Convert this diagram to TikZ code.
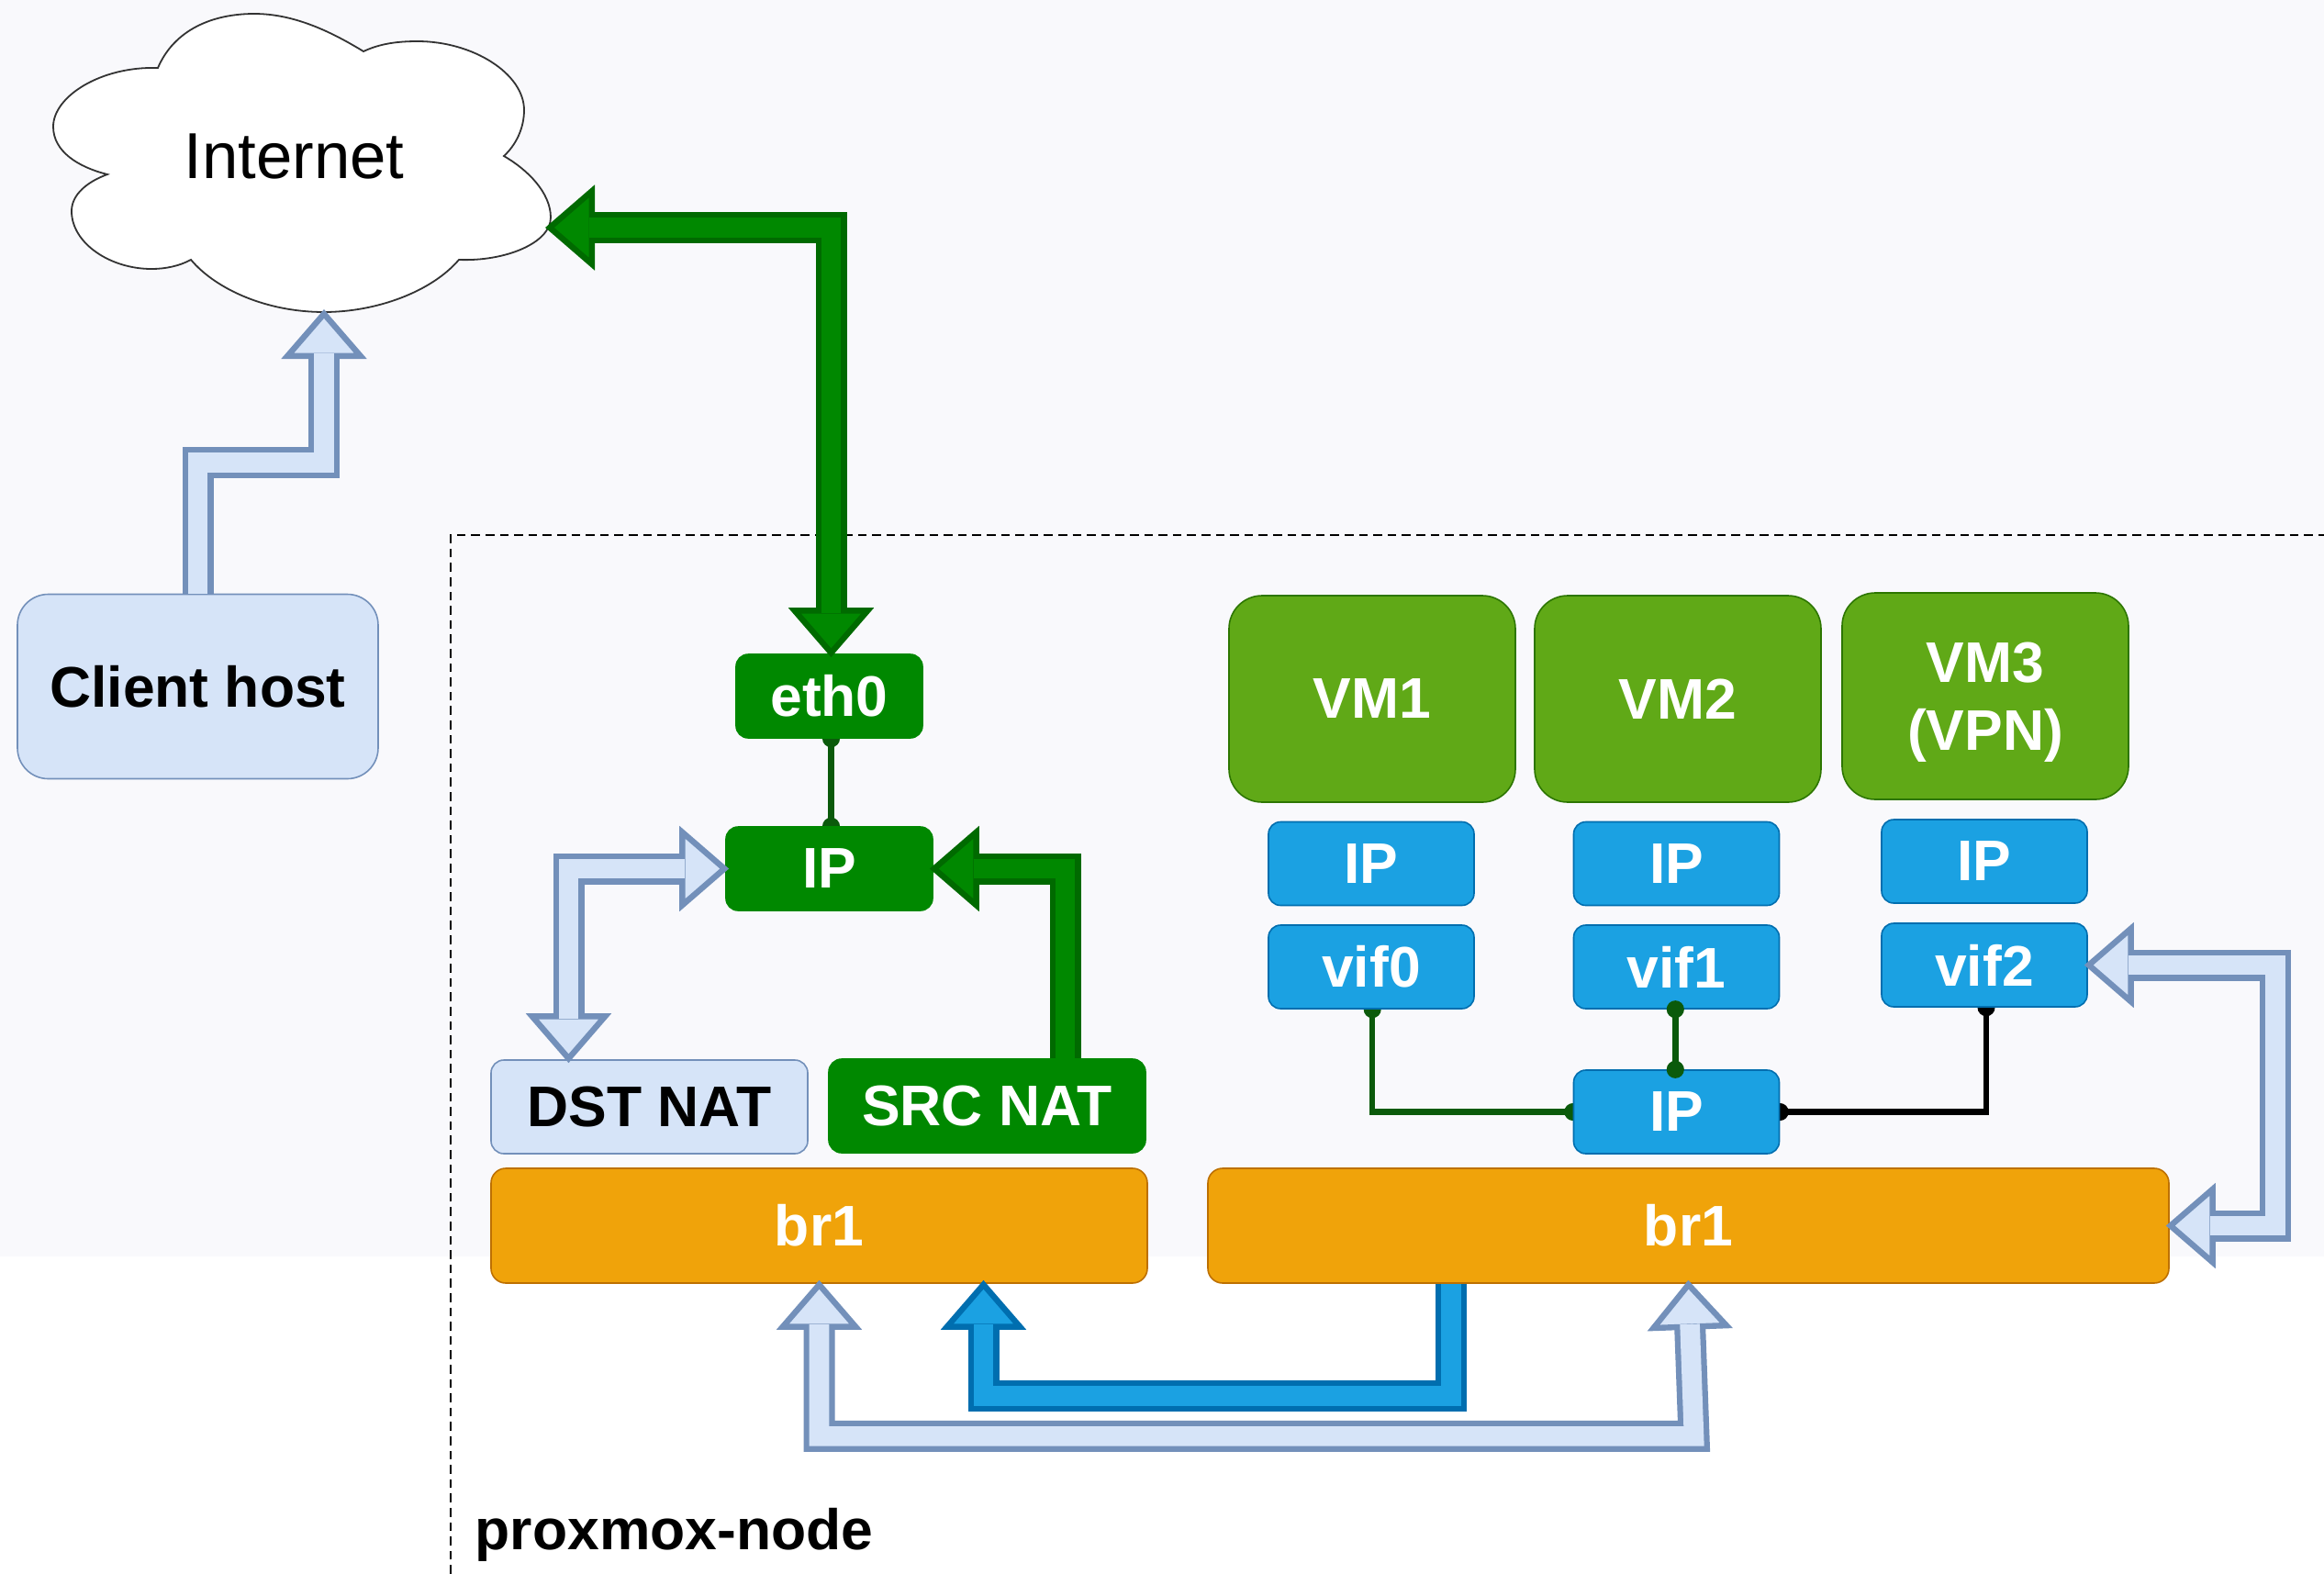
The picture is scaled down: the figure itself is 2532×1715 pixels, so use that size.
\documentclass[tikz,border=0pt]{standalone}
\usepackage{fontspec}
\setmainfont{Liberation Sans}
\usetikzlibrary{arrows.meta,backgrounds,calc,positioning}
\definecolor{paleback}{HTML}{F9F9FC}
\definecolor{lightfill}{HTML}{D6E4F8}
\definecolor{lightedge}{HTML}{7390BA}
\definecolor{greenfill}{HTML}{008800}
\definecolor{greenedge}{HTML}{006A00}
\definecolor{bluefill}{HTML}{1BA1E2}
\definecolor{blueedge}{HTML}{006EAF}
\definecolor{orangefill}{HTML}{F0A30A}
\definecolor{orangeedge}{HTML}{BD7000}
\definecolor{vmfill}{HTML}{60A917}
\definecolor{vmedge}{HTML}{2D7600}
\definecolor{wiregreen}{HTML}{0B5A0B}
\tikzstyle{label}=[font=\fontsize{15.6}{18.5}\selectfont\bfseries, inner sep=0pt, align=center]
\tikzstyle{hostbox}=[label, draw=lightedge, fill=lightfill, rounded corners=0.84em, minimum width=9.825em, minimum height=5.025em]
\tikzstyle{natlight}=[label, draw=lightedge, fill=lightfill, rounded corners=0.35em, minimum width=8.625em, minimum height=2.55em]
\tikzstyle{natgreen}=[natlight, draw=greenfill, fill=greenfill, text=white]
\tikzstyle{ethbox}=[label, draw=greenfill, fill=greenfill, text=white, rounded corners=0.33em, minimum width=5.075em, minimum height=2.275em]
\tikzstyle{ipgreen}=[ethbox, minimum width=5.625em]
\tikzstyle{bridge}=[label, draw=orangeedge, fill=orangefill, text=white, rounded corners=0.4em, minimum height=3.125em]
\tikzstyle{vmbox}=[label, draw=vmedge, fill=vmfill, text=white, rounded corners=0.9em, minimum width=7.8em, minimum height=5.625em]
\tikzstyle{ifbox}=[label, draw=blueedge, fill=bluefill, text=white, rounded corners=0.33em, minimum width=5.6em, minimum height=2.275em]
\tikzset{%
    flowto/.style 2 args={draw=#1, line width=8.5pt, shorten >=-1pt,
      -{Triangle[length=13.5pt, width=23pt, line width=1.6pt, fill=#2]},
      postaction={draw=#2, line width=5.4pt, -, shorten >=11pt}},
    flowboth/.style 2 args={draw=#1, line width=8.5pt, shorten >=-1pt, shorten <=-1pt,
      {Triangle[length=13.5pt, width=23pt, line width=1.6pt, fill=#2]}-{Triangle[length=13.5pt, width=23pt, line width=1.6pt, fill=#2]},
      postaction={draw=#2, line width=5.4pt, -, shorten >=11pt, shorten <=11pt}},
    wire/.style={draw=#1, line width=1.6pt, {Circle[length=4.75pt]}-{Circle[length=4.75pt]}, shorten >=-2.4pt, shorten <=-2.4pt},
  }

\begin{document}
\begin{tikzpicture}[x=0.25pt, y=-0.25pt]
    \useasboundingbox (0,0) rectangle (2532,1715);
    \begin{scope}[on background layer]
      \fill [white] (0,0) rectangle (2532,1715);
      \fill [paleback] (0,0) rectangle (2532,1369);
    \end{scope}
    \draw [black, line width=0.4pt, dash pattern=on 2.4pt off 1.5pt] (491,1715) -- (491,583) -- (2532,583);
    %
    \draw [black!80, line width=0.45pt, fill=white]
      (172,74) .. controls (190,32) and (232,15) .. (277,15) .. controls (320,15) and (360,34) .. (396,56)
      .. controls (415,47) and (435,45) .. (455,45) .. controls (515,45) and (571,80) .. (571,120) .. controls (571,140) and (562,158) .. (549,170)
      .. controls (575,185) and (600,210) .. (600,237) .. controls (600,265) and (550,285) .. (500,283)
      .. controls (470,318) and (410,340) .. (353,340) .. controls (290,340) and (235,315) .. (208,283)
      .. controls (195,290) and (180,293) .. (165,293) .. controls (120,293) and (78,265) .. (78,230) .. controls (78,212) and (95,198) .. (117,190)
      .. controls (85,182) and (58,165) .. (58,138) .. controls (58,105) and (110,72) .. (172,74) -- cycle;
    \node (internet) [font=\fontsize{17.7}{21}\selectfont, inner sep=0pt] at (320.5,170) {Internet};
    \coordinate (cloudeast) at (598,248);
    \coordinate (cloudsouth) at (353,341);
    %
    \node (client) [hostbox] at (215.5,748) {Client host};
    %
    \node (br1a) [bridge, minimum width=17.875em] at (892.5,1335.5) {br1};
    \node (br1b) [bridge, minimum width=26.175em, right of=br1a, node distance=23.675em] {br1};
    \node (dstnat) [natlight, above of=br1a, xshift=-4.625em, node distance=3.2375em] {DST NAT};
    \node (srcnat) [natgreen, right of=dstnat, yshift=0.025em, node distance=9.2em] {SRC NAT};
    \node (ipl) [ipgreen, above of=dstnat, xshift=4.9em, node distance=6.4875em] {IP};
    \node (eth0) [ethbox, above of=ipl, node distance=4.7em] {eth0};
    %
    \node (ip4) [ifbox, above of=br1b, xshift=-0.325em, node distance=3.1em] {IP};
    \node (vif1) [ifbox, above of=ip4, node distance=3.95em] {vif1};
    \node (ip2) [ifbox, above of=vif1, node distance=2.8125em] {IP};
    \node (vm2) [vmbox, above of=ip2, xshift=0.0375em, node distance=4.4875em] {VM2};
    \node (vif0) [ifbox, left of=vif1, node distance=8.3125em] {vif0};
    \node (ip1) [ifbox, left of=ip2, node distance=8.3125em] {IP};
    \node (vm1) [vmbox, left of=vm2, node distance=8.325em] {VM1};
    \node (vif2) [ifbox, right of=vif1, yshift=0.05em, node distance=8.3875em] {vif2};
    \node (ip3) [ifbox, right of=ip2, yshift=0.0625em, node distance=8.3875em] {IP};
    \node (vm3) [vmbox, text depth=0pt, right of=vm2, yshift=0.075em, node distance=8.375em] {VM3\\(VPN)};
    %
    \node (proxmox) [label, anchor=base west] at (517,1688) {proxmox-node};
    %
    \begin{scope}[on background layer]
      \draw [wire=wiregreen] ([xshift=0.05em]eth0.south) -- ([xshift=0.05em]ipl.north);
      \draw [wire=wiregreen] ([xshift=0.03em]vif0.south) |- (ip4.west);
      \draw [wire=black] ([xshift=0.05em]vif2.south) |- (ip4.east);
    \end{scope}
    \draw [wire=wiregreen] ([xshift=-0.03em]vif1.south) -- ([xshift=-0.03em]ip4.north);
    %
    \draw [flowto={lightedge}{lightfill}] (client.north) -- ++(0,-143) -| (cloudsouth);
    \draw [flowboth={greenedge}{greenfill}] (cloudeast) -| ([xshift=0.05em]eth0.north);
    \draw [flowboth={lightedge}{lightfill}] (ipl.west) -| ([xshift=-2.2em]dstnat.north);
    \draw [flowto={greenedge}{greenfill}] ([xshift=2.125em]srcnat.north) |- (ipl.east);
    \draw [flowboth={lightedge}{lightfill}] (vif2.east) -- ++(204,0) |- (br1b.east);
    \draw [flowto={blueedge}{bluefill}] ([xshift=-6.4625em]br1b.south) -- ++(0,122) -| ([xshift=4.475em]br1a.south);
    \draw [flowboth={lightedge}{lightfill}] (br1a.south) -- ++(0,166) -- ([xshift=0.15em,yshift=-4.15em]br1b.south) -- (br1b.south);
  \end{tikzpicture}
\end{document}
